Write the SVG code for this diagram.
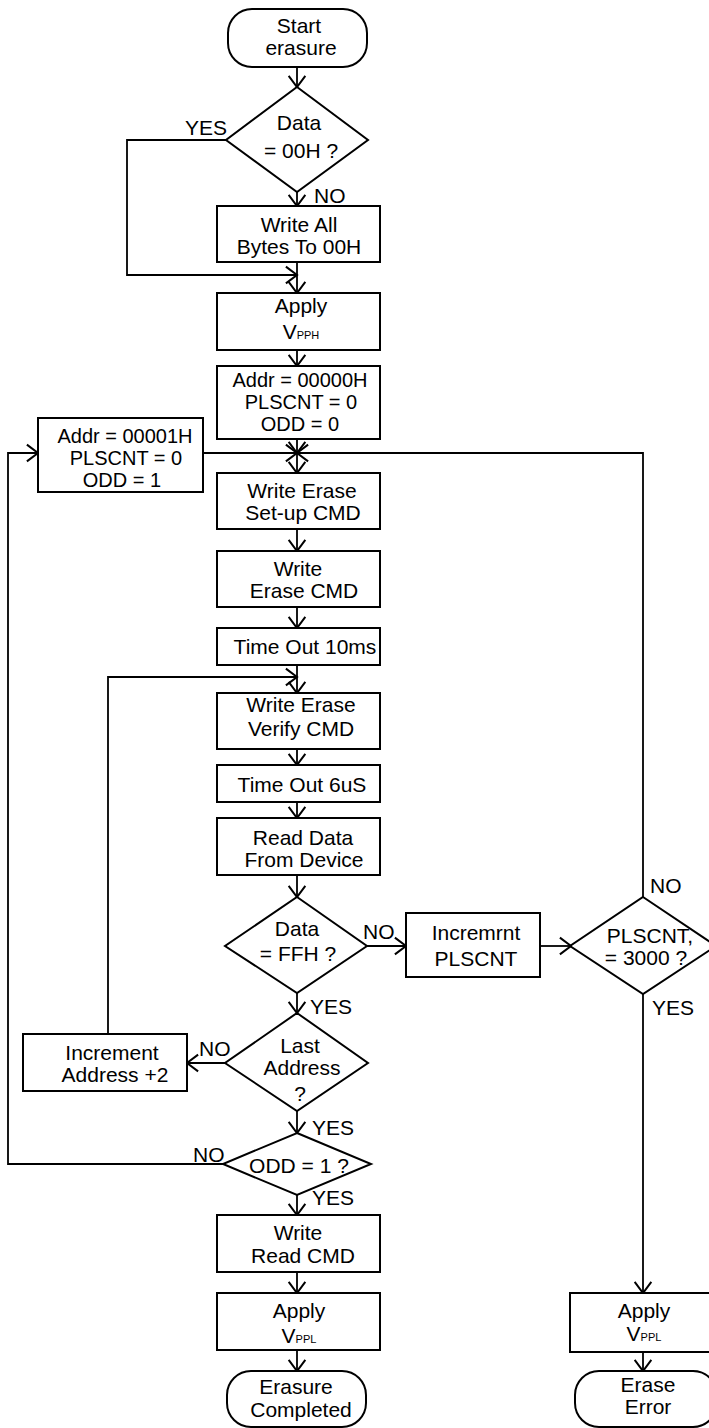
<svg xmlns="http://www.w3.org/2000/svg" width="709" height="1428" viewBox="0 0 709 1428">
<defs>
<marker id="ah" markerUnits="userSpaceOnUse" markerWidth="20" markerHeight="20" refX="0" refY="0" viewBox="-11 -9 13 18" orient="auto" overflow="visible">
<path d="M-10,-7.5 L0,0 L-10,7.5" fill="none" stroke="#000" stroke-width="1.8"/>
</marker>
</defs>
<style>
.s{fill:#fff;stroke:#000;stroke-width:2}
.c{fill:none;stroke:#000;stroke-width:1.8}
.a{fill:none;stroke:#000;stroke-width:1.8;marker-end:url(#ah)}
text{font-family:"Liberation Sans",Arial,sans-serif;font-size:21px;fill:#000;text-anchor:middle}
.l{text-anchor:start}
.sub{font-size:11px}
.t{font-size:20px}
</style>
<g id="connectors">
<line class="a" x1="297" y1="67" x2="297" y2="87"/>
<line class="a" x1="297" y1="192" x2="297" y2="206"/>
<polyline class="a" points="226,140 127,140 127,275 297,275"/>
<line class="a" x1="297" y1="262" x2="297" y2="293"/>
<line class="a" x1="297" y1="350" x2="297" y2="366"/>
<line class="a" x1="297" y1="439" x2="297" y2="453"/>
<line class="a" x1="203" y1="453" x2="297" y2="453"/>
<polyline class="a" points="643,897 643,453 297,453"/>
<line class="a" x1="297" y1="453" x2="297" y2="473"/>
<line class="a" x1="297" y1="529" x2="297" y2="551"/>
<line class="a" x1="297" y1="607" x2="297" y2="628"/>
<line class="a" x1="297" y1="665" x2="297" y2="693"/>
<polyline class="a" points="108,1034 108,677 297,677"/>
<line class="a" x1="297" y1="749" x2="297" y2="765"/>
<line class="a" x1="297" y1="802" x2="297" y2="818"/>
<line class="a" x1="297" y1="875" x2="297" y2="897"/>
<line class="a" x1="367" y1="946" x2="406" y2="946"/>
<line class="a" x1="540" y1="946" x2="571" y2="946"/>
<line class="a" x1="297" y1="993" x2="297" y2="1013"/>
<line class="a" x1="225" y1="1063" x2="187" y2="1063"/>
<line class="a" x1="297" y1="1111" x2="297" y2="1133"/>
<polyline class="a" points="223,1164 8,1164 8,453 38,453"/>
<line class="a" x1="297" y1="1195" x2="297" y2="1215"/>
<line class="a" x1="297" y1="1272" x2="297" y2="1293"/>
<line class="a" x1="297" y1="1350" x2="297" y2="1371"/>
<line class="a" x1="643" y1="994" x2="643" y2="1293"/>
<line class="a" x1="643" y1="1352" x2="643" y2="1371"/>
</g>
<g id="labels">
<text class="l" x="185" y="135">YES</text>
<text class="l" x="314" y="203">NO</text>
<text class="l" x="363" y="939">NO</text>
<text class="l" x="310" y="1014">YES</text>
<text class="l" x="199" y="1056">NO</text>
<text class="l" x="312" y="1135">YES</text>
<text class="l" x="193" y="1162">NO</text>
<text class="l" x="312" y="1205">YES</text>
<text class="l" x="650" y="893">NO</text>
<text class="l" x="652" y="1015">YES</text>
</g>
<g id="start"><rect class="s" x="228" y="9" width="139" height="58" rx="24"/><text x="299" y="33">Start</text><text x="301" y="55">erasure</text></g>
<g id="d00"><polygon class="s" points="297,87 368,140 297,192 226,140"/><text x="299" y="130">Data</text><text x="301" y="158">= 00H ?</text></g>
<g id="writeall"><rect class="s" x="217" y="206" width="163" height="56"/><text x="299" y="232">Write All</text><text x="299" y="254">Bytes To 00H</text></g>
<g id="vpph"><rect class="s" x="217" y="293" width="163" height="57"/><text x="301" y="313">Apply</text><text x="301" y="339">V<tspan class="sub">PPH</tspan></text></g>
<g id="addr0"><rect class="s" x="217" y="366" width="163" height="73"/><text class="t" x="300" y="387">Addr = 00000H</text><text class="t" x="301" y="409">PLSCNT = 0</text><text class="t" x="300" y="431">ODD = 0</text></g>
<g id="addr1"><rect class="s" x="38" y="418" width="165" height="74"/><text class="t" x="125" y="443">Addr = 00001H</text><text class="t" x="126" y="465">PLSCNT = 0</text><text class="t" x="122" y="487">ODD = 1</text></g>
<g id="setup"><rect class="s" x="217" y="473" width="163" height="56"/><text x="302" y="498">Write Erase</text><text x="303" y="520">Set-up CMD</text></g>
<g id="erase"><rect class="s" x="217" y="551" width="163" height="56"/><text x="298" y="576">Write</text><text x="304" y="598">Erase CMD</text></g>
<g id="to10"><rect class="s" x="217" y="628" width="163" height="37"/><text x="305" y="654">Time Out 10ms</text></g>
<g id="verify"><rect class="s" x="217" y="693" width="163" height="56"/><text x="301" y="712">Write Erase</text><text x="301" y="736">Verify CMD</text></g>
<g id="to6"><rect class="s" x="217" y="765" width="163" height="37"/><text x="302" y="792">Time Out 6uS</text></g>
<g id="read"><rect class="s" x="217" y="818" width="163" height="57"/><text x="303" y="845">Read Data</text><text x="304" y="867">From Device</text></g>
<g id="dff"><polygon class="s" points="297,897 367,946 297,993 225,946"/><text x="297" y="936">Data</text><text x="298" y="961">= FFH ?</text></g>
<g id="incp"><rect class="s" x="406" y="913" width="134" height="64"/><text x="476" y="940">Incremrnt</text><text x="476" y="966">PLSCNT</text></g>
<g id="d3000"><polygon class="s" points="643,897 716,946 643,994 570,946"/><text x="650" y="943">PLSCNT,</text><text x="646" y="965">= 3000 ?</text></g>
<g id="dlast"><polygon class="s" points="297,1013 368,1063 297,1111 225,1063"/><text x="300" y="1053">Last</text><text x="302" y="1075">Address</text><text x="300" y="1101">?</text></g>
<g id="inca"><rect class="s" x="23" y="1034" width="164" height="57"/><text x="112" y="1060">Increment</text><text x="115" y="1082">Address +2</text></g>
<g id="dodd"><polygon class="s" points="297,1133 371,1164 297,1195 223,1164"/><text x="299" y="1173">ODD = 1 ?</text></g>
<g id="readcmd"><rect class="s" x="217" y="1215" width="163" height="57"/><text x="298" y="1240">Write</text><text x="303" y="1263">Read CMD</text></g>
<g id="vppl"><rect class="s" x="217" y="1293" width="163" height="57"/><text x="299" y="1318">Apply</text><text x="299" y="1343">V<tspan class="sub">PPL</tspan></text></g>
<g id="done"><rect class="s" x="227" y="1371" width="139" height="56" rx="24"/><text x="296" y="1394">Erasure</text><text x="301" y="1417">Completed</text></g>
<g id="vppl2"><rect class="s" x="570" y="1293" width="148" height="59"/><text x="644" y="1318">Apply</text><text x="644" y="1341">V<tspan class="sub">PPL</tspan></text></g>
<g id="err"><rect class="s" x="575" y="1371" width="142" height="56" rx="24"/><text x="648" y="1392">Erase</text><text x="648" y="1414">Error</text></g>
</svg>
